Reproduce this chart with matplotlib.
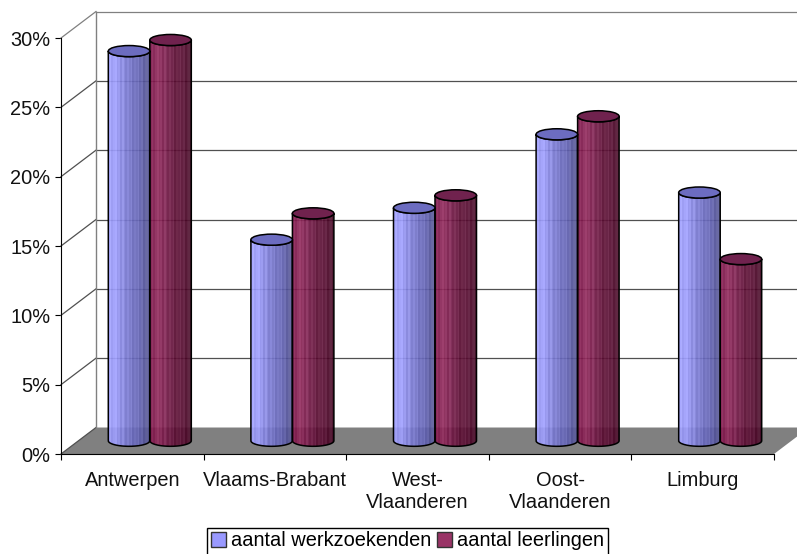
import matplotlib
matplotlib.use('Agg')
import matplotlib.pyplot as plt
import numpy as np
from matplotlib.patches import Ellipse, PathPatch, Patch, Polygon
from matplotlib.path import Path

plt.rcParams['font.family'] = ['Liberation Sans', 'DejaVu Sans']

categories = ['Antwerpen', 'Vlaams-Brabant', 'West-\nVlaanderen', 'Oost-\nVlaanderen', 'Limburg']
werkzoekenden = [28.1, 14.5, 16.8, 22.1, 17.9]
leerlingen = [28.9, 16.4, 17.7, 23.4, 13.1]
series_names = ['aantal werkzoekenden', 'aantal leerlingen']
y_ticks = [0, 5, 10, 15, 20, 25, 30]

# diepte van de 3D-doos, in data-eenheden
DX = 35 / 142.6
DY = 26.5 / 13.87
BAR_W = 41.5 / 142.6
ELL_H = 0.80

blue_ramp = ['#a0a0ff', '#9696f4', '#7e7ed6', '#6e6ec2', '#6060ae', '#52528e']
red_ramp = ['#80184c', '#8c2658', '#761c4a', '#601238', '#5a1034', '#480c28']
stripes = [0, 8, -6, 4, 10, -4, 6, -8, 12, 2, -6, 8, -2, 10, -8, 4, 0, 12, -4, 6, -10, 2, 8, -6]


def hex_rgb(c):
    return np.array([int(c[i:i + 2], 16) for i in (1, 3, 5)], dtype=float)


def make_gradient(ramp):
    # verticale strepen zoals in de Excel-cilinders
    pos = np.linspace(0, 1, len(ramp))
    xs = np.linspace(0, 1, len(stripes))
    rgb = np.array([hex_rgb(c) for c in ramp])
    out = np.stack([np.interp(xs, pos, rgb[:, k]) for k in range(3)], axis=1)
    out = out + np.array(stripes)[:, None]
    return np.clip(out, 0, 255)[None, :, :] / 255


def draw_cylinder(ax, xc, value, ramp, top_color):
    left, right = xc - BAR_W / 2, xc + BAR_W / 2
    base = DY / 2
    top = value + base
    t = np.linspace(np.pi, 2 * np.pi, 40)
    xb = xc + BAR_W / 2 * np.cos(t)
    yb = base + ELL_H / 2 * np.sin(t)
    t2 = t[::-1]
    xt = xc + BAR_W / 2 * np.cos(t2)
    yt = top + ELL_H / 2 * np.sin(t2)
    verts = np.column_stack([np.r_[xb, xt], np.r_[yb, yt]])
    verts = np.vstack([verts, verts[0]])
    body = PathPatch(Path(verts), facecolor='none', edgecolor='black', lw=1.1, zorder=5, clip_on=False)
    ax.add_patch(body)
    im = ax.imshow(make_gradient(ramp), extent=[left, right, base - ELL_H, top + ELL_H],
                   aspect='auto', interpolation='nearest', alpha=0.92, zorder=4)
    im.set_clip_path(body)
    ax.add_patch(Ellipse((xc, top), BAR_W, ELL_H, facecolor=top_color, edgecolor='black',
                         lw=1.1, zorder=6, clip_on=False))


fig = plt.figure(figsize=(7.97, 5.54), dpi=100)
ax = fig.add_axes([61 / 797, 100 / 554, 713 / 797, 416 / 554])
ax.set_xlim(0, 5)
ax.set_ylim(0, 30)

# achterwand, vloer en rasterlijnen
ax.add_patch(Polygon([(0, 0), (DX, DY), (5 + DX, DY), (5, 0)], facecolor='#808080', edgecolor='none',
                     zorder=1, clip_on=False))
for y in y_ticks:
    if y == 0:
        continue
    col = '#808080' if y == 30 else '#505050'
    ax.plot([DX, 5 + DX], [y + DY, y + DY], color=col, lw=0.9, zorder=2, clip_on=False)
    ax.plot([0, DX], [y, y + DY], color=col, lw=0.9, zorder=2, clip_on=False)
ax.plot([0, DX], [0, DY], color='#505050', lw=0.9, zorder=2, clip_on=False)
ax.plot([DX, DX], [DY, 30 + DY], color='#808080', lw=1, zorder=2, clip_on=False)

for i in range(len(categories)):
    xc = i + 0.5 + DX / 2
    draw_cylinder(ax, xc - BAR_W / 2, werkzoekenden[i], blue_ramp, '#6c6cc0')
    draw_cylinder(ax, xc + BAR_W / 2, leerlingen[i], red_ramp, '#70224e')

ax.set_xlim(0, 5)
ax.set_ylim(0, 30)

ax.spines['top'].set_visible(False)
ax.spines['right'].set_visible(False)
ax.spines['left'].set_zorder(7)
ax.spines['bottom'].set_zorder(7)
ax.patch.set_visible(False)

ax.set_yticks(y_ticks)
ax.set_yticklabels([f'{v}%' for v in y_ticks], fontsize=14.4, color='#111111')
ax.tick_params(axis='y', length=4, width=0.8, pad=3.5)
ax.set_xticks(range(6))
ax.set_xticklabels([])
ax.set_xticks(np.arange(len(categories)) + 0.5, minor=True)
ax.set_xticklabels(categories, minor=True, fontsize=14.4, color='#111111', linespacing=1.15)
ax.tick_params(axis='x', which='major', length=4.5, width=0.8)
ax.tick_params(axis='x', which='minor', length=0, pad=12.5)

handles = [Patch(facecolor='#9999ff', edgecolor='#333333', label=series_names[0]),
           Patch(facecolor='#993366', edgecolor='#333333', label=series_names[1])]
fig.legend(handles=handles, loc='center', bbox_to_anchor=(407.5 / 797, 1 - 541 / 554), ncol=2,
           fontsize=14.4, frameon=True, fancybox=False, edgecolor='black', framealpha=1,
           handlelength=0.75, handleheight=0.75, handletextpad=0.25, columnspacing=0.3,
           borderpad=0.2, borderaxespad=0)

fig.savefig('out.png', dpi=100)
